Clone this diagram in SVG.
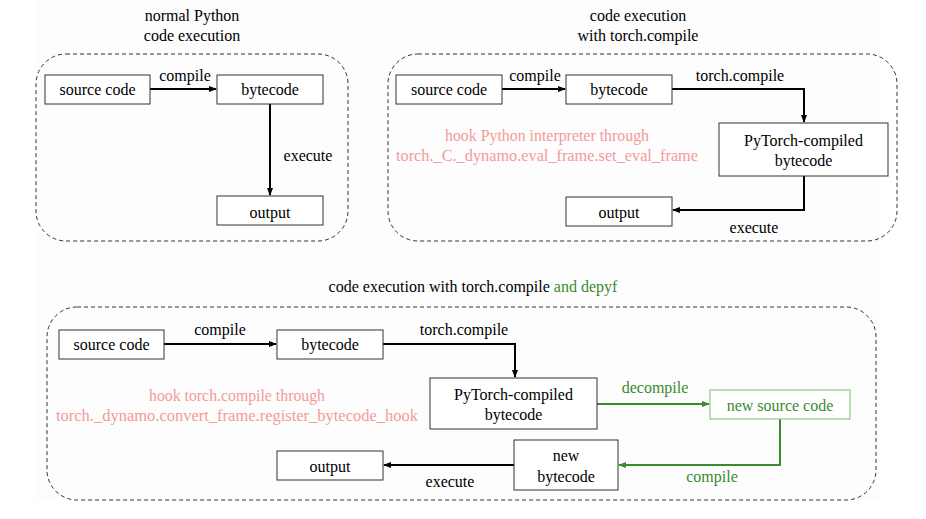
<svg xmlns="http://www.w3.org/2000/svg" width="926" height="519" viewBox="0 0 926 519" font-family="'Liberation Serif', 'Times New Roman', Times, serif">
<style>
text{font-family:'Liberation Serif','Times New Roman',Times,serif;font-size:16px;text-anchor:middle;fill:#000}
.box{fill:#fff;stroke:#333;stroke-width:1}
.gbox{fill:#fff;stroke:#8cc884;stroke-width:1.2}
.panel{fill:none;stroke:#333;stroke-width:1;stroke-dasharray:4,3}
.c{fill:none;stroke:#000;stroke-width:2;marker-end:url(#a)}
.g{fill:none;stroke:#3b8a2f;stroke-width:2;marker-end:url(#ga)}
.pk{fill:#f49a9a}
.gt{fill:#3b8a2f}
</style>
<defs>
<marker id="a" markerWidth="8" markerHeight="8" refX="7" refY="4" orient="auto" markerUnits="userSpaceOnUse"><path d="M0,1 L8,4 L0,7Z" fill="#000"/></marker>
<marker id="ga" markerWidth="8" markerHeight="8" refX="7" refY="4" orient="auto" markerUnits="userSpaceOnUse"><path d="M0,1 L8,4 L0,7Z" fill="#3b8a2f"/></marker>
</defs>
<rect width="926" height="519" fill="#fff"/>
<rect x="35" y="0" width="845" height="500" fill="#fdfdfd"/>
<g id="panels">
<rect class="panel" x="36" y="54" width="312" height="187" rx="30"/>
<rect class="panel" x="388" y="54" width="509" height="187" rx="30"/>
<rect class="panel" x="47" y="307" width="829" height="193" rx="30"/>
</g>
<g id="titles">
<text x="192" y="21">normal Python</text>
<text x="192" y="41">code execution</text>
<text x="638" y="21">code execution</text>
<text x="638" y="41">with torch.compile</text>
<text x="473" y="292">code execution with torch.compile <tspan class="gt">and depyf</tspan></text>
</g>
<g id="connectors">
<path class="c" d="M150,89 H216"/>
<path class="c" d="M270,104 V195"/>
<path class="c" d="M502,89 H565"/>
<path class="c" d="M672,89 H804 V122"/>
<path class="c" d="M804,176 V210 H673"/>
<path class="c" d="M164,344 H276"/>
<path class="c" d="M383,344 H515 V377"/>
<path class="g" d="M597,404 H709"/>
<path class="g" d="M780,419 V465 H619"/>
<path class="c" d="M514,465 H384"/>
</g>
<g id="labels">
<text x="185" y="81">compile</text>
<text x="308" y="161">execute</text>
<text x="535" y="81">compile</text>
<text x="740" y="81">torch.compile</text>
<text x="754" y="233">execute</text>
<text class="pk" x="547" y="141" font-size="14" textLength="204" lengthAdjust="spacingAndGlyphs">hook Python interpreter through</text>
<text class="pk" x="547" y="161" font-size="14" textLength="302" lengthAdjust="spacingAndGlyphs">torch._C._dynamo.eval_frame.set_eval_frame</text>
<text class="pk" x="237" y="401" font-size="14" textLength="176" lengthAdjust="spacingAndGlyphs">hook torch.compile through</text>
<text class="pk" x="237" y="421" font-size="14" textLength="362" lengthAdjust="spacingAndGlyphs">torch._dynamo.convert_frame.register_bytecode_hook</text>
<text x="220" y="335">compile</text>
<text x="464" y="335">torch.compile</text>
<text class="gt" x="655" y="393">decompile</text>
<text class="gt" x="712" y="482">compile</text>
<text x="450" y="487">execute</text>
</g>
<g id="n1"><rect class="box" x="45" y="75" width="105" height="29"/><text x="97.5" y="95">source code</text></g>
<g id="n2"><rect class="box" x="217" y="75" width="106" height="29"/><text x="270" y="95">bytecode</text></g>
<g id="n3"><rect class="box" x="217" y="196" width="106" height="29"/><text x="270" y="218">output</text></g>
<g id="n4"><rect class="box" x="396" y="75" width="106" height="29"/><text x="449" y="95">source code</text></g>
<g id="n5"><rect class="box" x="566" y="75" width="106" height="29"/><text x="619" y="95">bytecode</text></g>
<g id="n6"><rect class="box" x="719" y="123" width="169" height="53"/><text x="803.5" y="146">PyTorch-compiled</text><text x="803.5" y="166">bytecode</text></g>
<g id="n7"><rect class="box" x="566" y="197" width="106" height="29"/><text x="619" y="218">output</text></g>
<g id="n8"><rect class="box" x="59" y="330" width="105" height="29"/><text x="111.5" y="350">source code</text></g>
<g id="n9"><rect class="box" x="277" y="330" width="106" height="29"/><text x="330" y="350">bytecode</text></g>
<g id="n10"><rect class="box" x="430" y="378" width="167" height="51"/><text x="513.5" y="400">PyTorch-compiled</text><text x="513.5" y="420">bytecode</text></g>
<g id="n11"><rect class="gbox" x="710" y="390" width="140" height="29"/><text class="gt" x="780" y="411">new source code</text></g>
<g id="n12"><rect class="box" x="514" y="440" width="104" height="50"/><text x="566" y="461">new</text><text x="566" y="482">bytecode</text></g>
<g id="n13"><rect class="box" x="277" y="451" width="106" height="29"/><text x="330" y="472">output</text></g>
</svg>
